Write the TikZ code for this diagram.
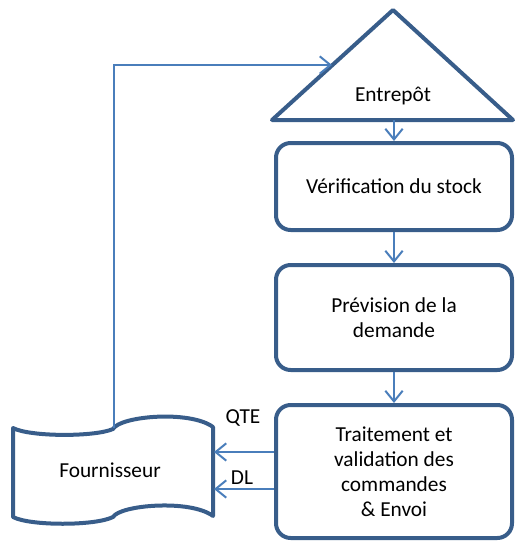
\documentclass[tikz,border=0pt]{standalone}
\usepackage{fontspec}
\setmainfont{Carlito}
\usetikzlibrary{arrows.meta}
\definecolor{bord}{RGB}{56,93,138}
\definecolor{conn}{RGB}{74,126,187}
\begin{document}
\begin{tikzpicture}[x=0.75pt,y=-0.75pt,
  shapeline/.style={draw=bord,line width=3pt,line join=round},
  procbox/.style={shapeline,rounded corners=11pt,minimum width=177pt,align=center,inner sep=0pt,
     font=\fontsize{16}{18.75}\selectfont},
  arr/.style={draw=conn,line width=1.5pt,-{Straight Barb[length=8pt,width=13pt,line width=1.5pt]}},
  lbl/.style={font=\fontsize{16}{18}\selectfont,inner sep=0pt}]
\useasboundingbox (0,0) rectangle (517,544);
% Entrepot triangle
\coordinate (tA) at (393,10);
\coordinate (tBL) at (272,120);
\coordinate (tBR) at (513,120);
\coordinate (tL) at (332,65);
\coordinate (tBot) at (394,120);
\draw[shapeline] (tA) -- (tBR) -- (tBL) -- cycle;
\node[lbl] (entrepot) at (393,96) {Entrepôt};
% process boxes
\node[procbox,minimum height=65.25pt] (verif) at (394,186.5) {Vérification du stock};
\node[procbox,minimum height=78.75pt] (prev) at (394,317.5) {Prévision de la\\demande};
\node[procbox,minimum height=99.75pt] (trait) at (394,471.5) {Traitement et\\validation des\\commandes\\\& Envoi};
% Fournisseur
\draw[shapeline] (13,428) .. controls (30,437) and (95,437) .. (113,429)
  .. controls (120,416) and (190,410) .. (213,427) -- (213,516)
  .. controls (190,499) and (120,505) .. (113,517)
  .. controls (95,526) and (30,526) .. (13,517) -- cycle;
\node[lbl] (fourn) at (110,470) {Fournisseur};
\coordinate (fTop) at (114,428);
\coordinate (fR1) at (214,452);
\coordinate (fR2) at (214,489);
% connectors
\draw[arr] (tBot) -- (verif.north);
\draw[arr] (verif.south) -- (prev.north);
\draw[arr] (prev.south) -- (trait.north);
\draw[arr] (fTop) |- (tL);
\draw[arr] (trait.west |- fR1) -- (fR1);
\draw[arr] (trait.west |- fR2) -- (fR2);
\node[lbl] (qte) at (243,418) {QTE};
\node[lbl] (dl) at (242,478) {DL};
\end{tikzpicture}
\end{document}
